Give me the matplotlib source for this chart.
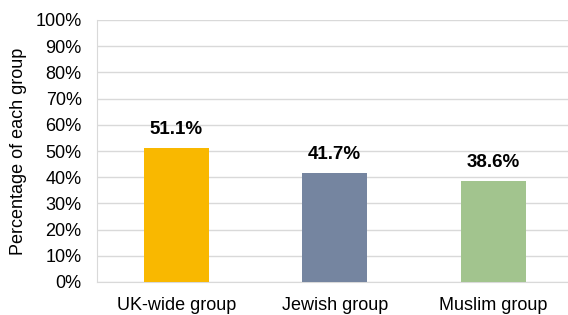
import matplotlib
matplotlib.use("Agg")
import matplotlib.pyplot as plt
from matplotlib.ticker import PercentFormatter

plt.rcParams['font.family'] = ['Liberation Sans', 'DejaVu Sans']

# data
groups = ["UK-wide group", "Jewish group", "Muslim group"]
values = [51.1, 41.7, 38.6]
colors = ["#F9B800", "#7585A0", "#A2C48E"]

fig = plt.figure(figsize=(5.68, 3.15), dpi=100)
ax = fig.add_axes([97/568, 1-282/315, 475.5/568, 262/315])

x = range(len(groups))
ax.bar(x, values, width=0.41, color=colors, zorder=3)

# value labels above each bar
for i, v in zip(x, values):
    ax.annotate(f"{v}%", (i, v), xytext=(0, 7), textcoords="offset points",
                ha="center", va="bottom", fontsize=13.5, fontweight="bold")

ax.set_xlim(-0.5, 2.5)
ax.set_ylim(0, 100)
ax.set_yticks(range(0, 101, 10))
ax.yaxis.set_major_formatter(PercentFormatter(decimals=0))
ax.set_xticks(list(x))
ax.set_xticklabels(groups)
ax.tick_params(axis="both", length=0, labelsize=13, colors="black")
ax.tick_params(axis="x", pad=10.5)
ax.tick_params(axis="y", pad=11)

ax.grid(axis="y", color="#d9d9d9", linewidth=1, zorder=0)
for s in ["top", "right"]:
    ax.spines[s].set_visible(False)
ax.spines["left"].set_color("#d9d9d9")
ax.spines["bottom"].set_color("#d9d9d9")

ax.set_ylabel("Percentage of each group", fontsize=13, labelpad=6)

fig.savefig("out.png", dpi=100)
